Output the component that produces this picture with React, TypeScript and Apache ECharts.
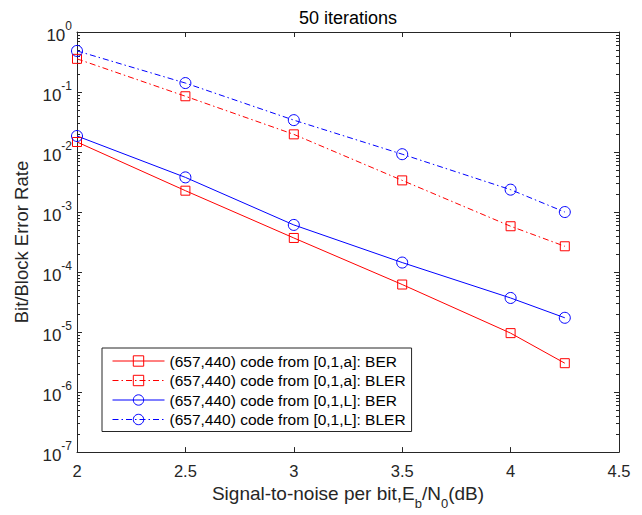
import React, { useEffect, useRef } from "react";
import * as echarts from "echarts";

const snr = [2, 2.5, 3, 3.5, 4, 4.25];
const berA = [0.0147, 0.00227, 3.7e-4, 6.2e-5, 9.6e-6, 3.03e-6];
const blerA = [0.357, 0.085, 0.0197, 0.00337, 5.8e-4, 2.69e-4];
const berL = [0.0185, 0.00378, 6.1e-4, 1.44e-4, 3.7e-5, 1.73e-5];
const blerL = [0.484, 0.141, 0.034, 0.0092, 0.00236, 0.001];
const seriesNames = [
  "(657,440) code from [0,1,a]: BER",
  "(657,440) code from [0,1,a]: BLER",
  "(657,440) code from [0,1,L]: BER",
  "(657,440) code from [0,1,L]: BLER",
];
const titleText = "50 iterations";
const yName = "Bit/Block Error Rate";

const AX = "#262626";
const FONT = "Liberation Sans";
const DASHDOT = [6, 3, 1.5, 3];

export default function App() {
  const ref = useRef<HTMLDivElement>(null);
  useEffect(() => {
    if (!ref.current) return;
    const chart = echarts.init(ref.current, undefined, { renderer: "svg" });

    const minorVals: number[][] = [];
    for (let e = -7; e < 0; e++) {
      for (let m = 2; m <= 9; m++) minorVals.push([2, m * Math.pow(10, e)]);
    }

    const mk = (
      name: string,
      data: number[],
      color: string,
      symbol: string,
      size: number,
      dashed: boolean
    ) => ({
      name,
      type: "line",
      xAxisIndex: 0,
      yAxisIndex: 0,
      data: snr.map((x, i) => [x, data[i]]),
      symbol,
      symbolSize: size,
      showAllSymbol: true,
      color,
      lineStyle: { color, width: 1, type: dashed ? DASHDOT : "solid" },
      itemStyle: { color: "rgba(0,0,0,0)", borderColor: color, borderWidth: 1 },
      emphasis: { disabled: true },
      z: 3,
    });

    const legendItem = (name: string, color: string, dashed: boolean) => ({
      name,
      itemStyle: { color: "rgba(0,0,0,0)", borderColor: color, borderWidth: 1 },
      lineStyle: { color, width: 1, type: dashed ? DASHDOT : "solid" },
    });

    const yLabel = {
      color: AX,
      fontFamily: FONT,
      margin: 5,
      formatter: (v: number) => {
        const e = Math.round(Math.log10(v));
        return `{b|10}{s|${e}}`;
      },
      rich: {
        b: { fontSize: 17, fontFamily: FONT, color: AX, verticalAlign: "bottom", lineHeight: 24 },
        s: { fontSize: 12, fontFamily: FONT, color: AX, verticalAlign: "top", lineHeight: 24 },
      },
    };

    chart.setOption({
      animation: false,
      backgroundColor: "#ffffff",
      title: {
        text: titleText,
        left: 348,
        top: 9,
        padding: 0,
        textAlign: "center",
        textStyle: { fontFamily: FONT, fontSize: 18, fontWeight: "normal", color: "#000" },
      },
      grid: { left: 77, right: 23, top: 32, bottom: 60, containLabel: false },
      legend: {
        orient: "vertical",
        left: 102,
        top: 348,
        backgroundColor: "#fff",
        borderColor: AX,
        borderWidth: 1,
        borderRadius: 0,
        padding: [5, 6, 4, 10],
        itemWidth: 52,
        itemHeight: 13,
        itemGap: 3.5,
        textStyle: { fontFamily: FONT, fontSize: 15.5, color: "#000" },
        data: [
          legendItem(seriesNames[0], "#ff0000", false),
          legendItem(seriesNames[1], "#ff0000", true),
          legendItem(seriesNames[2], "#0000ff", false),
          legendItem(seriesNames[3], "#0000ff", true),
        ],
        selectedMode: false,
      },
      xAxis: [
        {
          type: "value",
          position: "bottom",
          min: 2,
          max: 4.5,
          interval: 0.5,
          name: "{n|Signal-to-noise per bit,E}{sub|b}{n|/N}{sub|0}{n|(dB)}",
          nameLocation: "middle",
          nameGap: 28,
          nameTextStyle: {
            rich: {
              n: { fontSize: 19, fontFamily: FONT, color: AX, verticalAlign: "top", lineHeight: 26 },
              sub: { fontSize: 13, fontFamily: FONT, color: AX, verticalAlign: "bottom", lineHeight: 26 },
            },
          },
          axisLine: { show: true, lineStyle: { color: AX, width: 1 } },
          axisTick: { show: true, inside: true, length: 5, lineStyle: { color: AX } },
          axisLabel: { color: AX, fontFamily: FONT, fontSize: 16.5, margin: 10 },
          splitLine: { show: false },
        },
        {
          type: "value",
          position: "top",
          min: 2,
          max: 4.5,
          interval: 0.5,
          axisLine: { show: true, lineStyle: { color: AX, width: 1 } },
          axisTick: { show: true, inside: true, length: 5, lineStyle: { color: AX } },
          axisLabel: { show: false },
          splitLine: { show: false },
        },
      ],
      yAxis: [
        {
          type: "log",
          logBase: 10,
          position: "left",
          min: 1e-7,
          max: 1,
          splitNumber: 7,
          name: yName,
          nameLocation: "middle",
          nameGap: 46,
          nameRotate: 90,
          nameTextStyle: { fontFamily: FONT, fontSize: 18.5, color: AX },
          axisLine: { show: true, lineStyle: { color: AX, width: 1 } },
          axisTick: { show: true, inside: true, length: 5, lineStyle: { color: AX } },
          axisLabel: yLabel,
          splitLine: { show: false },
        },
        {
          type: "log",
          logBase: 10,
          position: "right",
          min: 1e-7,
          max: 1,
          splitNumber: 7,
          axisLine: { show: true, lineStyle: { color: AX, width: 1 } },
          axisTick: { show: true, inside: true, length: 5, lineStyle: { color: AX } },
          axisLabel: { show: false },
          splitLine: { show: false },
        },
      ],
      series: [
        {
          type: "custom",
          name: "minorTicks",
          xAxisIndex: 0,
          yAxisIndex: 0,
          silent: true,
          clip: false,
          data: minorVals,
          renderItem: (params: any, api: any) => {
            const cs = params.coordSys;
            const y = Math.round(api.coord([2, api.value(1)])[1]) + 0.5;
            const style = { stroke: AX, lineWidth: 1 };
            return {
              type: "group",
              children: [
                { type: "line", shape: { x1: cs.x, y1: y, x2: cs.x + 3, y2: y }, style },
                { type: "line", shape: { x1: cs.x + cs.width - 3, y1: y, x2: cs.x + cs.width, y2: y }, style },
              ],
            };
          },
          z: 1,
        },
        mk(seriesNames[0], berA, "#ff0000", "rect", 9, false),
        mk(seriesNames[1], blerA, "#ff0000", "rect", 9, true),
        mk(seriesNames[2], berL, "#0000ff", "circle", 11, false),
        mk(seriesNames[3], blerL, "#0000ff", "circle", 11, true),
      ],
    });

    return () => chart.dispose();
  }, []);

  return (
    <div
      ref={ref}
      style={{ position: "fixed", left: 0, top: 0, width: 642, height: 515, background: "#fff" }}
    />
  );
}
